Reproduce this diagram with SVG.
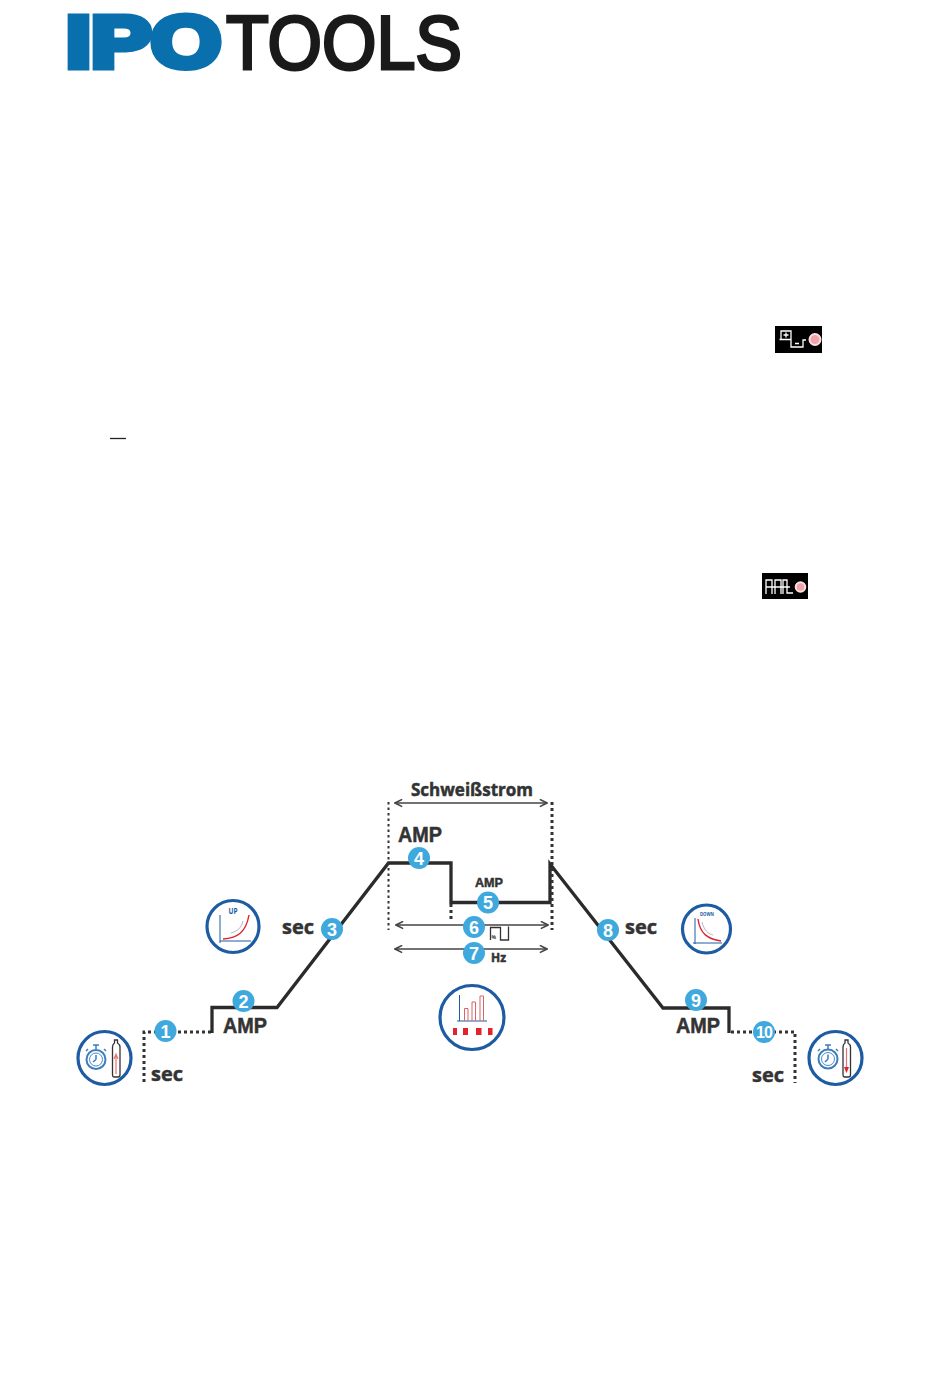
<svg xmlns="http://www.w3.org/2000/svg" width="950" height="1387" viewBox="0 0 950 1387">
<style>
.t{font-family:"Open Sans","Liberation Sans",sans-serif;font-weight:700;fill:#333;stroke:#333;stroke-width:.5}
.m{font-family:"Liberation Sans",sans-serif;font-weight:700;fill:#333;stroke:#333;stroke-width:.5}
.n{font-family:"Liberation Sans",sans-serif;font-weight:700;fill:#fff;text-anchor:middle;font-size:18px}
.b{fill:#3fa9de}
.s{fill:none;stroke:#2b2b2b;stroke-width:3.300}
.d{fill:none;stroke:#333;stroke-width:3;stroke-dasharray:3 3}
.d2{fill:none;stroke:#333;stroke-width:2;stroke-dasharray:2.500 3}
.a{fill:none;stroke:#444;stroke-width:1.500;marker-start:url(#ah);marker-end:url(#ah)}
.ring{fill:#fff;stroke:#1d5ca3;stroke-width:3.200}
.thin{fill:none;stroke:#1d5ca3;stroke-width:1}
.red{fill:none;stroke:#e0232e;stroke-width:1.400}
.pink{fill:none;stroke:#d9636a;stroke-width:1}
.w{fill:none;stroke:#fff;stroke-width:1.300}
</style>
<defs>
<marker id="ah" viewBox="0 0 10 10" refX="9" refY="5" markerWidth="9" markerHeight="9" orient="auto-start-reverse" markerUnits="userSpaceOnUse"><path d="M1 1L9 5L1 9" fill="none" stroke="#444" stroke-width="1.800"/></marker>
</defs>
<rect width="950" height="1387" fill="#fff"/>
<g id="logo">
<text x="66" y="66.500" font-family="Liberation Sans" font-weight="700" font-size="72" fill="#0a6fad" stroke="#0a6fad" stroke-width="7" textLength="155" lengthAdjust="spacingAndGlyphs">IPO</text>
<text x="226" y="69" font-family="Liberation Sans" font-weight="400" font-size="76" fill="#1a1a1a" stroke="#1a1a1a" stroke-width="3" textLength="236" lengthAdjust="spacingAndGlyphs">TOOLS</text>
</g>
<g id="button-step">
<rect x="775" y="326" width="47" height="27" fill="#000"/>
<path class="w" d="M781 331H791V339.500H781ZM779.500 339.500H791M791 340V347H803V340H806M783.500 335H788.500M786 332.500V337.500M795 343.500H799"/>
<circle cx="815" cy="339.500" r="5.500" fill="#f0a3ab" stroke="#fbe0e0" stroke-width="2"/>
</g>
<g id="button-pulse">
<rect x="762" y="573" width="46" height="26" fill="#000"/>
<path class="w" d="M766 594V580H772V594M775 594V580H781V594M783 594V580H787V593H793M766 587H790"/>
<circle cx="800.500" cy="587" r="4.800" fill="#f0a3ab" stroke="#fbe0e0" stroke-width="2"/>
</g>
<path id="underline" d="M110 438.500H126" stroke="#222" stroke-width="1.300" fill="none"/>
<g id="connectors">
<path class="d" d="M144 1082V1032H211"/>
<path class="s" d="M212 1033V1007.500H277L388.500 863H451V902.500H550V864L663 1008H729V1033"/>
<path class="d" d="M731 1032H795V1083"/>
<path class="d2" d="M388.500 802V930"/>
<path class="d" d="M552 802V930"/>
<path class="d" d="M451 904V920"/>
<path class="a" d="M395 803H547"/>
<path class="a" d="M396 925H548"/>
<path class="a" d="M395 949H547"/>
<path d="M490.500 940V927.500H500.500V940H508.500V926.500" fill="none" stroke="#333" stroke-width="1.300"/>
</g>
<g id="labels">
<text class="t" x="411" y="796" font-size="18" textLength="122" lengthAdjust="spacingAndGlyphs">Schweißstrom</text>
<text class="m" x="398" y="842" font-size="22" textLength="44" lengthAdjust="spacingAndGlyphs">AMP</text>
<text class="m" x="475" y="887" font-size="13" textLength="28" lengthAdjust="spacingAndGlyphs">AMP</text>
<text class="t" x="491" y="962" font-size="12" textLength="15" lengthAdjust="spacingAndGlyphs">Hz</text>
<text class="t" x="491.500" y="939" font-size="5" style="stroke-width:0">%</text>
<text class="m" x="223" y="1033" font-size="22" textLength="44" lengthAdjust="spacingAndGlyphs">AMP</text>
<text class="m" x="676" y="1033" font-size="22" textLength="44" lengthAdjust="spacingAndGlyphs">AMP</text>
<text class="t" x="282" y="934" font-size="20" textLength="32" lengthAdjust="spacingAndGlyphs">sec</text>
<text class="t" x="625" y="934" font-size="20" textLength="32" lengthAdjust="spacingAndGlyphs">sec</text>
<text class="t" x="151" y="1081" font-size="20" textLength="32" lengthAdjust="spacingAndGlyphs">sec</text>
<text class="t" x="752" y="1082" font-size="20" textLength="32" lengthAdjust="spacingAndGlyphs">sec</text>
</g>
<g id="step-1"><circle class="b" cx="165.500" cy="1031" r="11"/><text class="n" x="165.500" y="1037.500">1</text></g>
<g id="step-2"><circle class="b" cx="243.500" cy="1001" r="11"/><text class="n" x="243.500" y="1007.500">2</text></g>
<g id="step-3"><circle class="b" cx="332" cy="929" r="11"/><text class="n" x="332" y="935.500">3</text></g>
<g id="step-4"><circle class="b" cx="419" cy="858" r="11"/><text class="n" x="419" y="864.500">4</text></g>
<g id="step-5"><circle class="b" cx="488" cy="902.500" r="11"/><text class="n" x="488" y="909">5</text></g>
<g id="step-6"><circle class="b" cx="474" cy="927" r="11"/><text class="n" x="474" y="933.500">6</text></g>
<g id="step-7"><circle class="b" cx="474" cy="953" r="11"/><text class="n" x="474" y="959.500">7</text></g>
<g id="step-8"><circle class="b" cx="608" cy="930" r="11"/><text class="n" x="608" y="936.500">8</text></g>
<g id="step-9"><circle class="b" cx="696" cy="1000" r="11"/><text class="n" x="696" y="1006.500">9</text></g>
<g id="step-10"><circle class="b" cx="764" cy="1032" r="11"/><text class="n" x="764" y="1038" style="font-size:16px;letter-spacing:-1px">10</text></g>
<g id="icon-up">
<circle class="ring" cx="233" cy="926.500" r="26"/>
<path class="thin" d="M220 915V943M220 941H251"/>
<path class="red" d="M223 939C238 938 246 932 249 915"/>
<path d="M231 933C238 931 241 928 243 921" fill="none" stroke="#9aa3c4" stroke-width="0.800"/>
<text x="233" y="914" font-family="Open Sans" font-weight="700" font-size="8" fill="#1d5ca3" text-anchor="middle" textLength="9" lengthAdjust="spacingAndGlyphs">UP</text>
</g>
<g id="icon-down">
<circle class="ring" cx="706.500" cy="929" r="24"/>
<path class="thin" d="M695 918V944M693 943H722"/>
<path class="red" d="M698 919C700 934 708 939 721 941"/>
<path d="M702 922C704 930 708 934 713 935" fill="none" stroke="#9aa3c4" stroke-width="0.800"/>
<text x="707" y="916" font-family="Open Sans" font-weight="700" font-size="6" fill="#1d5ca3" text-anchor="middle" textLength="14" lengthAdjust="spacingAndGlyphs">DOWN</text>
</g>
<g id="icon-gas-start">
<circle class="ring" cx="104.500" cy="1058" r="26.500"/>
<circle cx="96" cy="1059.500" r="9.500" fill="none" stroke="#3b7dbd" stroke-width="2"/>
<circle cx="96" cy="1059.500" r="6.500" fill="none" stroke="#3b7dbd" stroke-width="0.900"/>
<path d="M93 1045H99M96 1045V1049M88 1049L86 1051M104 1049L106 1051M96 1059.500V1055M96 1059.500L93 1062" fill="none" stroke="#3b7dbd" stroke-width="1.500"/>
<path d="M114.500 1040H117.500V1043C119 1044 120 1045 120 1047V1075Q120 1077 118 1077H114Q112.500 1077 112.500 1075V1047C112.500 1045 113 1044 114.500 1043Z" fill="#fff" stroke="#333" stroke-width="1.300"/>
<path d="M116 1074V1056M114 1059L116 1054L118 1059" fill="none" stroke="#e8737a" stroke-width="1.200"/>
</g>
<g id="icon-gas-end">
<circle class="ring" cx="835.500" cy="1058" r="26.500"/>
<circle cx="828" cy="1059" r="9.500" fill="none" stroke="#3b7dbd" stroke-width="2"/>
<circle cx="828" cy="1059" r="6.500" fill="none" stroke="#3b7dbd" stroke-width="0.900"/>
<path d="M825 1045H831M828 1045V1049M820 1049L818 1051M836 1049L838 1051M828 1059V1054.500M828 1059L825 1062" fill="none" stroke="#3b7dbd" stroke-width="1.500"/>
<path d="M845 1040H848V1043C849.500 1044 850.500 1045 850.500 1047V1075Q850.500 1077 848.500 1077H844.500Q843 1077 843 1075V1047C843 1045 843.500 1044 845 1043Z" fill="#fff" stroke="#333" stroke-width="1.300"/>
<path d="M846.500 1048V1072" fill="none" stroke="#e8737a" stroke-width="1.200"/>
<path d="M844 1067L846.500 1073L849 1067Z" fill="#e0232e"/>
</g>
<g id="icon-bars">
<circle class="ring" cx="472" cy="1017.500" r="32"/>
<path class="thin" d="M459.500 995V1021M457 1021H487"/>
<path class="pink" d="M464.500 1021V1008.500H468V1021M472 1021V1002H475.500V1021M480 1021V996H483.500V1021"/>
<rect x="453" y="1028" width="4" height="7" fill="#e0232e"/>
<rect x="463" y="1028" width="5" height="7" fill="#e0232e"/>
<rect x="476" y="1028" width="5.500" height="7" fill="#e0232e"/>
<rect x="488" y="1028" width="4.500" height="7" fill="#e0232e"/>
</g>
</svg>
